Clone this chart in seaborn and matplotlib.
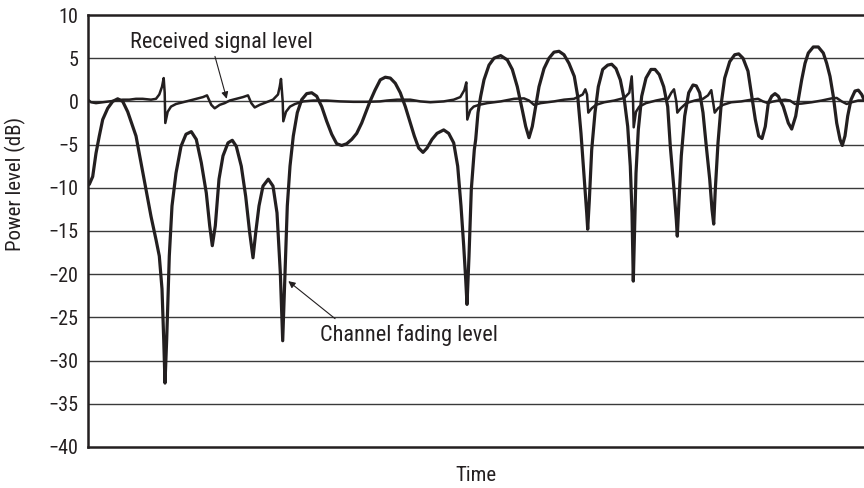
import numpy as np
import pandas as pd
import matplotlib
matplotlib.use("Agg")
import matplotlib.pyplot as plt
from matplotlib import font_manager
import seaborn as sns

# ---- data (time in arbitrary units, power in dB) ----
fading_x = [89.3, 92.7, 96, 99.3, 102.7, 107.7, 112.7, 117.7, 122.7, 127.7, 132.7, 136, 141, 146, 151, 156,
            159.3, 162, 163.7, 165, 166.7, 169.3, 172, 176, 181, 186, 191.3, 196.3, 201.3, 206.3, 209.7,
            212.3, 215.3, 219, 223, 228, 232.3, 236.3, 241.3, 245.7, 249.7, 253, 255.7, 259, 263, 268.3,
            273, 277, 280.3, 282.7, 285, 287.3, 290, 293.3, 297.3, 301.7, 306.7, 311.7, 316.7, 321.7,
            326.7, 331.7, 336.7, 341.7, 346.7, 351.7, 356.7, 361.7, 366, 370, 375, 380.3, 385.3, 390.3,
            395.3, 400.3, 405.3, 410.3, 414.3, 418.7, 423, 427, 432, 437, 443.7, 448.7, 453.7, 457.7, 461,
            463.7, 465.7, 467, 469, 471.3, 474.3, 475.7, 478, 480.7, 484, 489, 494, 500.7, 507.3, 512.3,
            517.3, 522.3, 525.7, 529, 532.3, 535.7, 539, 544, 549, 554, 559, 564, 569, 574.3, 577.7, 581,
            584.3, 586.7, 587.7, 589.3, 591.7, 595, 598.3, 602.7, 607.7, 611.7, 616, 620.3, 624.3, 627.7,
            630.3, 632, 633.3, 634.7, 636, 638.3, 641.7, 646, 651, 655, 659.3, 663.7, 667.7, 670.3, 674,
            676.3, 677.3, 679, 681.3, 684.7, 688.7, 693, 696.3, 699.7, 703, 706.3, 709.7, 712, 713.7, 715.3,
            718, 721.3, 724.7, 729.7, 734.7, 738.7, 743, 748, 751.3, 755.3, 758.7, 762, 765.3, 768.3, 771.7,
            775, 778.3, 783.3, 788.3, 791.7, 795.7, 798.3, 801.7, 805, 808.3, 813.3, 818.3, 823.3, 826.7,
            830, 833.3, 836.7, 840, 842.3, 845, 847.7, 851, 855, 858.3, 861.7, 864]
fading_db = [-9.6, -8.7, -6.0, -4.0, -2.1, -0.8, 0.0, 0.3, 0.0, -1.2, -2.9, -4.0, -7.1, -10.2, -13.3, -16.0,
             -17.9, -21.7, -27.5, -32.6, -27.5, -17.9, -12.1, -8.3, -5.2, -3.8, -3.5, -4.4, -7.1, -10.6, -14.4,
             -16.7, -14.4, -9.0, -6.3, -4.8, -4.5, -5.2, -7.5, -11.0, -15.2, -18.1, -15.2, -12.1, -9.8, -9.0,
             -9.8, -12.9, -19.8, -27.7, -19.8, -12.1, -7.5, -4.0, -1.3, 0.2, 0.9, 1.0, 0.6, -0.6,
             -2.3, -3.8, -4.9, -5.1, -4.9, -4.4, -3.7, -2.5, -1.2, 0.0, 1.3, 2.5, 2.8, 2.7,
             2.1, 1.0, -0.6, -2.5, -4.0, -5.4, -5.9, -5.4, -4.4, -3.7, -3.3, -3.7, -4.8, -7.5, -12.1,
             -16.7, -20.6, -23.5, -17.9, -10.2, -5.6, -4.4, -1.3, 0.6, 2.5, 4.2, 5.0, 5.3, 4.8, 3.7,
             1.7, -1.0, -2.9, -4.2, -2.9, -0.6, 1.7, 3.8, 5.0, 5.7, 5.8, 5.4, 4.4, 2.9, 0.6, -3.7,
             -9.0, -12.9, -14.8, -11.5, -5.6, -1.3, 1.7, 3.7, 4.2, 4.3, 3.8, 2.5, 0.2, -2.9,
             -7.5, -12.9, -20.8, -14.4, -8.3, -3.3, 0.6, 2.7, 3.7, 3.7, 3.1, 1.7, -0.6, -5.2, -10.2,
             -13.7, -15.6, -11.5, -6.3, -1.7, 1.0, 1.9, 1.8, 1.0, -1.3, -5.2, -9.0, -12.5, -14.2, -10.2,
             -4.8, -0.2, 2.7, 4.6, 5.4, 5.5, 5.0, 3.5, 1.0, -2.1, -4.0, -4.3, -2.9, -0.2, 0.6,
             0.9, 0.6, -0.6, -2.5, -3.2, -1.7, 0.2, 2.5, 4.4, 5.6, 6.3, 6.3, 5.6, 4.4,
             2.9, 0.6, -2.5, -4.4, -5.1, -4.0, -1.7, 0.2, 1.2, 1.3, 0.8, 0.2]

signal_x = [88, 91, 96, 102.7, 109.3, 116, 122.7, 129.3, 136, 142.7, 151, 156, 159.3, 162, 163.7, 164.7,
            165.3, 167.7, 171, 176, 183, 189.7, 196.3, 203, 207, 211.3, 214.7, 219.7, 224.7, 229.7, 236.3,
            243, 248, 251.3, 254.7, 259.7, 266.3, 273, 278, 279.7, 281, 282.7, 283.3, 286, 290, 295,
            303.3, 313.3, 326.7, 340, 353.3, 366.7, 380, 387, 397, 410.3, 420.3, 430.3, 443.7, 453.7,
            460.3, 464.3, 466.3, 467.3, 470.3, 473.7, 479, 487.3, 500.7, 514, 524, 529, 534, 540.7, 554,
            564, 574, 577.7, 582.7, 585.3, 587, 588.3, 591.7, 596, 604.3, 614.3, 624.3, 629.3, 631.7, 633,
            633.7, 636, 639.3, 646, 656, 664.3, 668, 671.3, 674, 676.3, 677.3, 680.7, 686.3, 694.7, 703,
            708, 711.3, 713, 714.7, 718, 723, 731.3, 741.3, 751.3, 758, 763, 768, 771.7, 778.3, 785, 790,
            795, 801.7, 811.7, 821.7, 831.7, 836.7, 841.7, 846.7, 851.7, 858.3, 864]
signal_db = [0.2, -0.1, -0.2, -0.1, 0.0, 0.1, 0.2, 0.2, 0.3, 0.3, 0.2, 0.3, 0.8, 1.7, 2.7, 1.0,
             -2.5, -1.2, -0.6, -0.3, -0.1, 0.1, 0.3, 0.5, 0.7, -0.4, -0.8, -0.4, -0.2, 0.1, 0.3,
             0.5, 0.7, -0.2, -0.7, -0.4, -0.1, 0.2, 0.8, 1.7, 2.6, 0.0, -2.3, -1.2, -0.6, -0.3,
             0.0, 0.1, 0.1, 0.0, -0.05, -0.05, 0.0, 0.1, 0.2, 0.2, 0.0, -0.1, 0.0, 0.2,
             0.5, 1.3, 2.2, -2.1, -1.0, -0.6, -0.4, -0.2, 0.0, 0.3, 0.35, 0.1, -0.4, -0.2, 0.0,
             0.2, 0.3, 0.5, 0.8, 1.4, 0.8, -1.3, -0.8, -0.4, -0.1, 0.1, 0.4, 1.0, 2.9, 0.2,
             -3.0, -1.2, -0.6, -0.2, 0.1, 0.3, 0.3, 1.0, 1.4, 0.0, -1.3, -0.8, -0.2, 0.1, 0.3,
             0.7, 1.3, 0.0, -1.3, -0.8, -0.4, -0.1, 0.0, 0.2, 0.3, 0.0, -0.2, -0.05, 0.1, 0.2, 0.1,
             -0.3, -0.25, -0.1, 0.1, 0.35, 0.4, 0.0, -0.3, -0.1, 0.1, 0.1]

y_ticks = [10, 5, 0, -5, -10, -15, -20, -25, -30, -35, -40]
x_label = "Time"
y_label = "Power level (dB)"
label_signal = "Received signal level"
label_fading = "Channel fading level"

X0 = 88  # left edge of the time axis in the source picture units
fading = pd.DataFrame({"t": np.array(fading_x) - X0, "dB": fading_db})
signal = pd.DataFrame({"t": np.array(signal_x) - X0, "dB": signal_db})

# ---- style ----
sns.set_style("white")
avail = {f.name for f in font_manager.fontManager.ttflist}
fam = [f for f in ["Liberation Sans Narrow", "Roboto Condensed", "Open Sans Condensed"] if f in avail]
plt.rcParams["font.family"] = fam + ["Liberation Sans", "DejaVu Sans"]
plt.rcParams["axes.unicode_minus"] = True

INK = "#231f20"
fig = plt.figure(figsize=(8.64, 4.88), dpi=100)
ax = fig.add_axes([88 / 864, 1 - 447 / 488, 1 - 88 / 864, (447 - 15) / 488])

for yv in y_ticks[1:-1]:
    ax.axhline(yv, color="#3a3a3a", lw=1.0, zorder=1)

sns.lineplot(data=signal, x="t", y="dB", ax=ax, color=INK, lw=1.8, sort=False, zorder=3)
sns.lineplot(data=fading, x="t", y="dB", ax=ax, color=INK, lw=2.3, sort=False, zorder=4)

ax.set_xlim(0, 776)
ax.set_ylim(-40, 10)
ax.set_yticks(y_ticks)
ax.set_yticklabels([str(v).replace("-", "\u2212") for v in y_ticks])
ax.set_xticks([])
ax.tick_params(axis="y", length=0, pad=7, labelsize=14.5, colors=INK)
ax.set_xlabel(x_label, fontsize=15, color=INK)
ax.set_ylabel(y_label, fontsize=15, color=INK)
ax.xaxis.set_label_coords(0.5, -0.045)
ax.yaxis.set_label_coords(-0.08, 0.61)

for side in ["left", "top", "bottom"]:
    ax.spines[side].set_visible(True)
    ax.spines[side].set_linewidth(1.8)
    ax.spines[side].set_color(INK)
ax.spines["right"].set_visible(False)

ax.annotate(label_signal, xy=(138.7, 0.3), xytext=(42, 6.8), fontsize=16, color=INK,
            va="center", ha="left",
            arrowprops=dict(arrowstyle="-|>", color=INK, lw=0.8, mutation_scale=10,
                            shrinkA=0, shrinkB=0, relpos=(0.46, 0.0)))
ax.annotate(label_fading, xy=(200.3, -20.8), xytext=(232, -27.0), fontsize=16, color=INK,
            va="center", ha="left",
            arrowprops=dict(arrowstyle="-|>", color=INK, lw=0.8, mutation_scale=10,
                            shrinkA=2, shrinkB=0, relpos=(0.12, 1.0)))

fig.savefig("out.png", dpi=100)
